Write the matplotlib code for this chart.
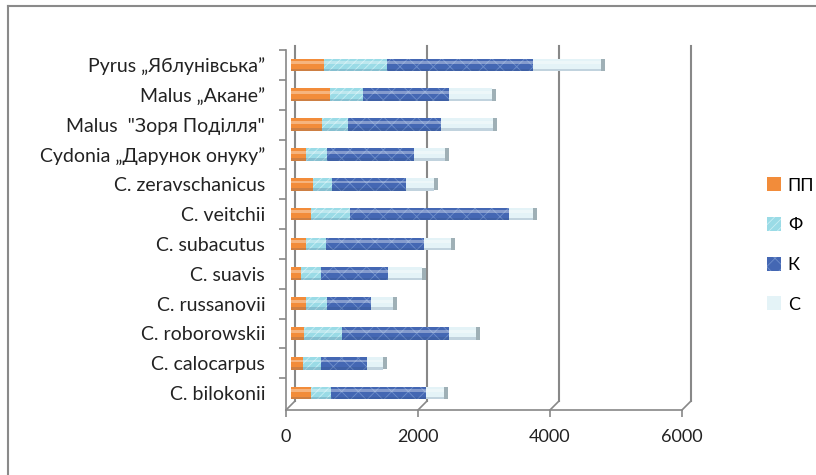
import numpy as np
import matplotlib
matplotlib.use("Agg")
import matplotlib.pyplot as plt
import matplotlib.transforms as mtransforms
from matplotlib.patches import Patch

# ------------------------------------
#   data (top row first)
# ------------------------------------
species = ['Pyrus „Яблунівська”', 'Malus „Акане”', 'Malus  "Зоря Поділля"',
           'Cydonia „Дарунок онуку”', 'C. zeravschanicus', 'C. veitchii',
           'C. subacutus', 'C. suavis', 'C. russanovii', 'C. roborowskii',
           'C. calocarpus', 'C. bilokonii']
pp = [500, 590, 470, 220, 340, 300, 230, 150, 220, 190, 180, 300]
f = [960, 500, 390, 330, 280, 590, 300, 310, 330, 580, 280, 310]
k = [2210, 1300, 1420, 1320, 1130, 2420, 1480, 1010, 660, 1620, 690, 1430]
s = [1020, 660, 780, 460, 410, 350, 420, 520, 330, 420, 250, 280]
series_names = ['ПП', 'Ф', 'К', 'С']
x_ticks = [0, 2000, 4000, 6000]

colors = ['#F28C3A', '#9ADBE6', '#4467B3', '#E4F3F7']
hatches = [None, '////', 'xx', None]
hatch_cols = ['#F28C3A', '#C8EEF4', '#6F8FCB', '#E4F3F7']

plt.rcParams['font.family'] = ['Lato', 'DejaVu Sans']
plt.rcParams['hatch.linewidth'] = 0.6

W, H = 816, 475
fig = plt.figure(figsize=(W / 100, H / 100), dpi=100)
fig.patch.set_facecolor('white')

# outer frame (cut off at right and bottom like the screenshot)
fig.add_artist(plt.Line2D([8 / W, 8 / W], [0, 1 - 6 / H], color='#8a8a8a', lw=1.5))
fig.add_artist(plt.Line2D([8 / W, 1], [1 - 6 / H, 1 - 6 / H], color='#8a8a8a', lw=1.5))

ax = fig.add_axes([286 / W, 1 - 410 / H, (682 - 286) / W, 360 / H])
n = len(species)
y = np.arange(n)[::-1]
ax.set_xlim(0, 6000)
ax.set_ylim(-0.567, n - 1 + 0.4)

# bars sit a bit behind the front plane
bar_tr = mtransforms.offset_copy(ax.transData, fig=fig, x=5, y=0, units='dots')
back = mtransforms.offset_copy(ax.get_xaxis_transform(), fig=fig, x=9, y=9, units='dots')

# back wall lines with the 3D hook at the bottom
inv = fig.transFigure.inverted()
for xv in x_ticks:
    ax.plot([xv, xv], [0, 0.985], color='#888888', lw=1.5, transform=back, clip_on=False)
    p0 = inv.transform(ax.get_xaxis_transform().transform((xv, 0)))
    p1 = inv.transform(back.transform((xv, 0)))
    fig.add_artist(plt.Line2D([p0[0], p1[0]], [p0[1], p1[1]], color='#888888', lw=1.2))

left = np.zeros(n)
data = [pp, f, k, s]
hb = 0.43
for i, vals in enumerate(data):
    ax.barh(y, vals, left=left, height=hb, color=colors[i], edgecolor=hatch_cols[i],
            hatch=hatches[i], linewidth=0, transform=bar_tr, zorder=3)
    left = left + np.array(vals)

# cylinder shading: highlight on top, shadow at bottom
ax.barh(y + hb * 0.18, left, height=hb * 0.22, color='white', alpha=0.35,
        linewidth=0, transform=bar_tr, zorder=4)
ax.barh(y - hb * 0.4, left, height=hb * 0.2, color='#27456e', alpha=0.18,
        linewidth=0, transform=bar_tr, zorder=4)
# grey end cap
ax.barh(y, 60, left=left, height=hb * 0.95, color='#9fb0b6', linewidth=0,
        transform=bar_tr, zorder=3)

# axes styling
for sp in ['top', 'right']:
    ax.spines[sp].set_visible(False)
for sp in ['left', 'bottom']:
    ax.spines[sp].set_color('#888888')
    ax.spines[sp].set_linewidth(1.2)

ax.set_xticks(x_ticks)
ax.set_xticklabels([str(v) for v in x_ticks])
ax.tick_params(axis='x', length=5, width=1.2, color='#888888', pad=9, labelsize=13,
               labelcolor='#222222')
ax.set_yticks(y)
ax.set_yticklabels(species)
ax.tick_params(axis='y', which='major', length=0, pad=15, labelsize=14, labelcolor='#222222')
ax.set_yticks(np.arange(n) + 0.5, minor=True)
ax.tick_params(axis='y', which='minor', length=5, width=1.2, color='#888888')

handles = [Patch(facecolor=colors[i], edgecolor=hatch_cols[i], hatch=hatches[i], linewidth=0,
                 label=series_names[i]) for i in range(4)]
fig.legend(handles=handles, loc='center left', bbox_to_anchor=(758 / W, 1 - 245 / H),
           frameon=False, fontsize=13, handlelength=0.8, handleheight=0.8,
           handletextpad=0.35, labelspacing=1.3, borderpad=0)

fig.savefig('out.png', dpi=100)
